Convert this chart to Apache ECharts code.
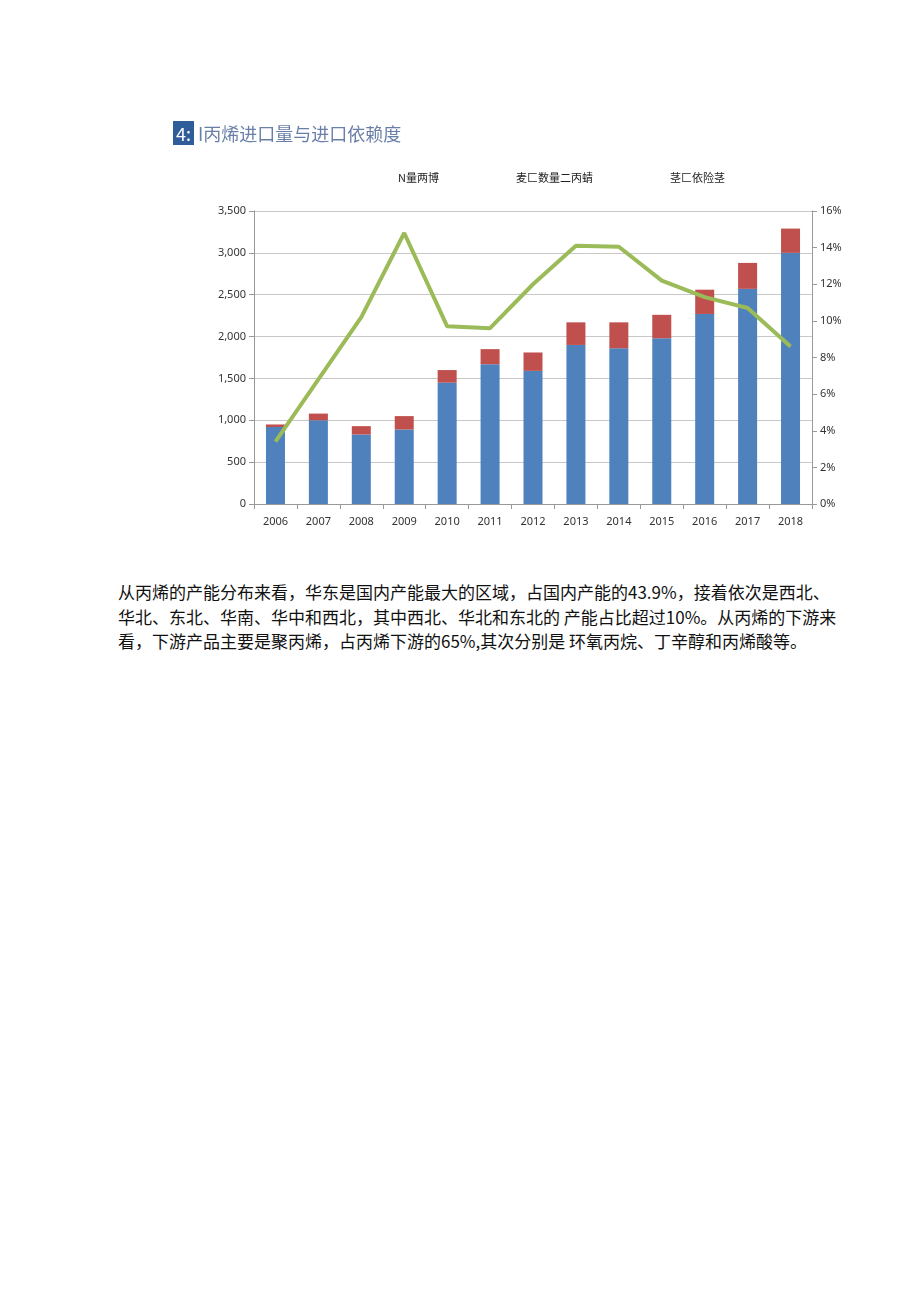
<!DOCTYPE html>
<html><head><meta charset="utf-8">
<script src="https://cdn.jsdelivr.net/npm/echarts@6/dist/echarts.min.js"></script>
<style>
body{margin:0;background:#fff;width:920px;height:1301px;position:relative;overflow:hidden}
#chart{position:absolute;left:0;top:0;width:920px;height:560px}
#title{position:absolute;left:173px;top:120px;font:18px "Noto Sans CJK SC";color:#6a7fa8;white-space:nowrap}
#title b{display:inline-block;background:#2f5d9a;color:#fff;font-weight:normal;padding:0 3px;margin-right:4px;height:24px;line-height:24px}
#para{position:absolute;left:118px;top:580px;font:17px/24.5px "Noto Sans CJK SC";color:#111;white-space:nowrap}
</style></head><body>
<div id="chart"></div>
<div id="title"><b>4:</b>I丙烯进口量与进口依赖度</div>
<div id="para">从丙烯的产能分布来看，华东是国内产能最大的区域，占国内产能的43.9%，接着依次是西北、<br>华北、东北、华南、华中和西北，其中西北、华北和东北的 产能占比超过10%。从丙烯的下游来<br>看，下游产品主要是聚丙烯，占丙烯下游的65%,其次分别是 环氧丙烷、丁辛醇和丙烯酸等。</div>
<script>
const years = ["2006","2007","2008","2009","2010","2011","2012","2013","2014","2015","2016","2017","2018"];
const domestic = [920, 1000, 830, 890, 1450, 1670, 1590, 1900, 1860, 1980, 2270, 2570, 3000];
const imports = [30, 80, 100, 160, 150, 180, 220, 270, 310, 280, 290, 310, 290];
const dependency = [3.4, 6.8, 10.2, 14.8, 9.7, 9.6, 12.0, 14.1, 14.05, 12.2, 11.3, 10.7, 8.6];
const names = ["N量两博", "麦匚数量二丙蜻", "茎匚依险茎"];

const chart = echarts.init(document.getElementById("chart"));
const axisLabel = { color: "#333", fontSize: 11, fontFamily: "Noto Sans" };
chart.setOption({
  animation: false,
  legend: { data: names, left: 388, top: 166, icon: "none", itemWidth: 0, itemGap: 72,
    textStyle: { fontSize: 11, color: "#222", fontFamily: "Noto Sans CJK SC" } },
  grid: { left: 254, right: 108, top: 211, height: 293 },
  xAxis: { type: "category", data: years,
    axisLine: { lineStyle: { color: "#999" } }, axisTick: { show: true, lineStyle: { color: "#999" } },
    axisLabel: { ...axisLabel, margin: 12 } },
  yAxis: [
    { type: "value", min: 0, max: 3500, interval: 500,
      axisLabel: { ...axisLabel, formatter: v => v.toLocaleString("en-US") },
      axisLine: { show: true, lineStyle: { color: "#999" } }, axisTick: { show: true, lineStyle: { color: "#999" } },
      splitLine: { lineStyle: { color: "#c8c8c8" } } },
    { type: "value", min: 0, max: 16, interval: 2,
      axisLabel: { ...axisLabel, formatter: "{value}%" },
      axisLine: { show: true, lineStyle: { color: "#999" } }, axisTick: { show: true, lineStyle: { color: "#999" } },
      splitLine: { show: false } }
  ],
  series: [
    { name: names[0], type: "bar", stack: "t", data: domestic, barWidth: 19, itemStyle: { color: "#4f81bd" } },
    { name: names[1], type: "bar", stack: "t", data: imports, itemStyle: { color: "#c0504d" } },
    { name: names[2], type: "line", yAxisIndex: 1, data: dependency, symbol: "none",
      lineStyle: { color: "#9bbb59", width: 4 } }
  ]
});
</script>
</body></html>
